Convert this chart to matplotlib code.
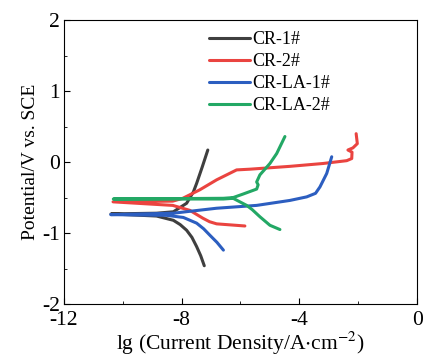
import matplotlib
matplotlib.use('Agg')
import matplotlib.pyplot as plt

# Tafel curves: lg(i) and potential (V vs. SCE)
# each curve runs from the cathodic end, through Ecorr (far left), to the anodic end
cr1_x = [-7.23, -7.35, -7.49, -7.65, -7.83, -8.05, -8.28, -8.85, -10.40, -8.85, -8.28, -7.83, -7.60, -7.49, -7.30, -7.11]
cr1_y = [-1.46, -1.32, -1.19, -1.06, -0.96, -0.88, -0.82, -0.76, -0.73, -0.72, -0.70, -0.58, -0.42, -0.30, -0.07, 0.17]

cr2_x = [-5.85, -6.81, -7.05, -7.28, -7.72, -8.30, -10.33, -8.30, -7.96, -7.38, -6.81, -6.13, -5.68,
         -4.32, -3.20, -2.39, -2.22, -2.21, -2.35, -2.18, -2.03, -2.07]
cr2_y = [-0.90, -0.87, -0.84, -0.79, -0.68, -0.61, -0.56, -0.55, -0.51, -0.39, -0.25, -0.11, -0.10,
         -0.06, -0.02, 0.02, 0.05, 0.14, 0.17, 0.20, 0.26, 0.40]

la1_x = [-6.58, -6.80, -7.04, -7.25, -7.49, -7.94, -8.51, -10.41, -8.28, -6.81, -5.45, -4.32, -3.75, -3.45, -3.30, -3.07, -2.90]
la1_y = [-1.24, -1.13, -1.03, -0.94, -0.86, -0.78, -0.75, -0.74, -0.72, -0.65, -0.61, -0.54, -0.49, -0.44, -0.35, -0.16, 0.075]

la2_x = [-4.66, -5.00, -5.34, -5.60, -5.79, -6.25, -6.58, -10.32, -6.58, -6.25, -5.91, -5.45, -5.40,
         -5.45, -5.34, -5.00, -4.77, -4.49]
la2_y = [-0.95, -0.89, -0.77, -0.67, -0.61, -0.51, -0.52, -0.52, -0.51, -0.50, -0.45, -0.38, -0.32,
         -0.28, -0.18, -0.02, 0.12, 0.36]

labels = ['CR-1#', 'CR-2#', 'CR-LA-1#', 'CR-LA-2#']
colors = ['#3f3f3f', '#ea4440', '#2c5ec0', '#23a865']

x_ticks = [-12, -8, -4, 0]
y_ticks = [-2, -1, 0, 1, 2]

plt.rcParams['font.family'] = ['Liberation Serif', 'DejaVu Serif']
plt.rcParams['mathtext.fontset'] = 'stix'

fig = plt.figure(figsize=(4.23, 3.59), dpi=100)
ax = fig.add_axes([0.151, 0.153, 0.835, 0.791])

curves = [(cr1_x, cr1_y), (cr2_x, cr2_y), (la1_x, la1_y), (la2_x, la2_y)]
for (xs, ys), lab, col in zip(curves, labels, colors):
    ax.plot(xs, ys, color=col, lw=2.2, label=lab, solid_capstyle='round', solid_joinstyle='round')

ax.set_xlim(-12, 0)
ax.set_ylim(-2, 2)
ax.set_xticks(x_ticks)
ax.set_xticklabels([str(t) for t in x_ticks])
ax.set_xticks([-10, -6, -2], minor=True)
ax.set_yticks(y_ticks)
ax.set_yticklabels([str(t) for t in y_ticks])
ax.set_yticks([-1.5, -0.5, 0.5, 1.5], minor=True)
ax.tick_params(which='both', direction='in', labelsize=15.5)
ax.tick_params(axis='x', pad=5)
ax.tick_params(axis='y', pad=3)
ax.tick_params(which='major', length=4)
ax.tick_params(which='minor', length=2.5)

ax.set_xlabel(r'lg (Current Density/A$\cdot$cm$^{-2}$)', fontsize=15.5, labelpad=0)
ax.set_ylabel('Potential/V vs. SCE', fontsize=14, labelpad=2)

ax.legend(loc='upper left', bbox_to_anchor=(0.38, 1.0), frameon=False, fontsize=13,
          handlelength=2.3, handletextpad=0.1, labelspacing=0.28, borderaxespad=0.2)

fig.savefig('out.png', dpi=100)
